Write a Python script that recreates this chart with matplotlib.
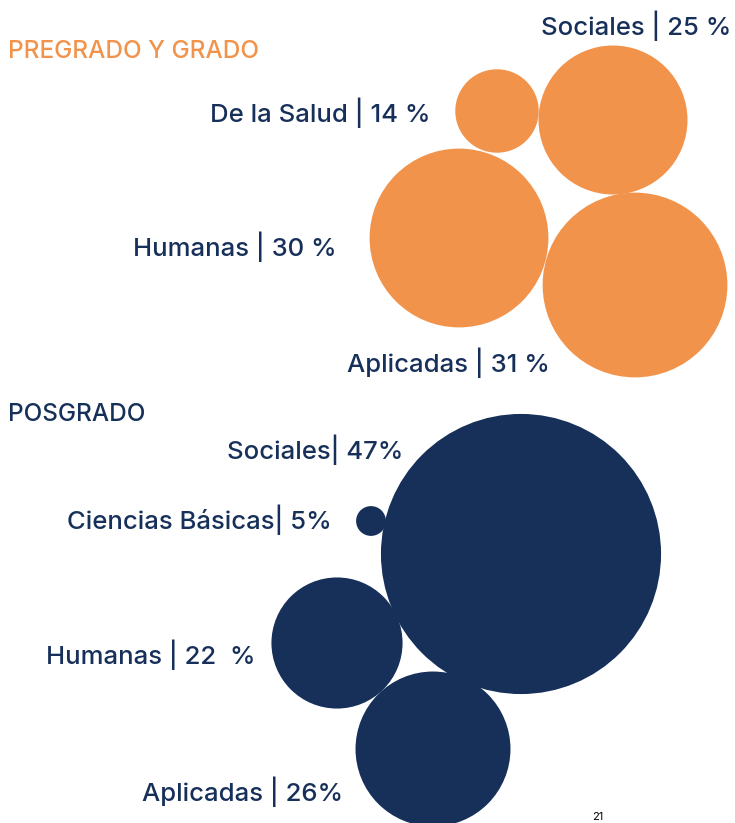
import matplotlib
matplotlib.use("Agg")
import matplotlib.pyplot as plt
from matplotlib.patches import Circle

# ---- data ----
pre_labels = ["De la Salud | 14 %", "Sociales | 25 %", "Humanas | 30 %", "Aplicadas | 31 %"]
pre_values = [14, 25, 30, 31]
pos_labels = ["Sociales| 47%", "Ciencias Básicas| 5%", "Humanas | 22  %", "Aplicadas | 26%"]
pos_values = [47, 5, 22, 26]
titles = ["PREGRADO Y GRADO", "POSGRADO"]
page_number = "21"

# ---- layout (pixel space) ----
SCALE = 2.98  # radius pixels per percent
pre_centers = [(497, 111), (613, 120), (459, 238), (635, 285)]
pre_label_pos = [(431, 113), (731, 26), (337, 247), (550, 363)]
pos_centers = [(521, 554), (371, 521), (337, 643), (433, 749)]
pos_label_pos = [(403, 450), (332, 520), (256, 655), (343, 792)]

ORANGE = "#F2934C"
NAVY = "#17305A"
FONT = ["Inter", "DejaVu Sans"]

fig = plt.figure(figsize=(7.35, 8.23), dpi=100)
ax = fig.add_axes([0, 0, 1, 1])
ax.set_xlim(0, 735)
ax.set_ylim(823, 0)
ax.axis("off")

for (cx, cy), v in zip(pre_centers, pre_values):
    ax.add_patch(Circle((cx, cy), v * SCALE, color=ORANGE, lw=0))
for (cx, cy), v in zip(pos_centers, pos_values):
    ax.add_patch(Circle((cx, cy), v * SCALE, color=NAVY, lw=0))

for (x, y), t in zip(pre_label_pos, pre_labels):
    ax.text(x, y, t, ha="right", va="center", fontsize=18.5, color=NAVY,
            family=FONT, fontweight="medium")
for (x, y), t in zip(pos_label_pos, pos_labels):
    ax.text(x, y, t, ha="right", va="center", fontsize=18.5, color=NAVY,
            family=FONT, fontweight="medium")

ax.text(8, 51, titles[0], ha="left", va="center", fontsize=17.5, color=ORANGE,
        family=FONT, fontweight="medium")
ax.text(8, 414, titles[1], ha="left", va="center", fontsize=17.5, color=NAVY,
        family=FONT, fontweight="medium")
ax.text(598, 822, page_number, ha="center", va="bottom", fontsize=8, color="black",
        family=FONT)

fig.savefig("out.png", dpi=100)
